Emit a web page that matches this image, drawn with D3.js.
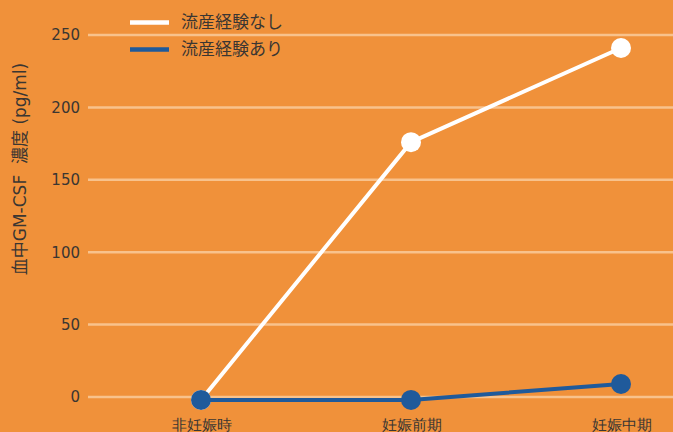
<!DOCTYPE html>
<html>
<head>
<meta charset="utf-8">
<script src="https://cdn.jsdelivr.net/npm/d3@7"></script>
<style>
  html, body { margin: 0; padding: 0; background: #F0913A; }
  svg { display: block; font-family: "Noto Sans CJK JP", "Noto Sans", sans-serif; }
</style>
</head>
<body>
<div id="chart"></div>
<script>
// カテゴリ（時期）
const periods = ['非妊娠時', '妊娠前期', '妊娠中期'];
// 系列の値 (pg/ml)
const noMiscarriage = [-2, 176, 241];
const withMiscarriage = [-2, -2, 9];
const seriesNames = ['流産経験なし', '流産経験あり'];
const seriesColors = ['#FFFFFF', '#1F5A9B'];
// 目盛り
const yTicks = [0, 50, 100, 150, 200, 250];

const width = 673;
const height = 432;
const textColor = '#3A3632';

const svg = d3.select('#chart')
  .append('svg')
  .attr('width', width)
  .attr('height', height);

svg.append('rect')
  .attr('width', width)
  .attr('height', height)
  .attr('fill', '#F0913A');

// スケール
const x = d3.scalePoint().domain(periods).range([201, 621]);
const y = d3.scaleLinear().domain([0, 250]).range([397, 35]);

// グリッド線
svg.append('g')
  .selectAll('line')
  .data(yTicks)
  .enter().append('line')
  .attr('x1', 88)
  .attr('x2', width)
  .attr('y1', d => y(d))
  .attr('y2', d => y(d))
  .attr('stroke', '#F8C28C')
  .attr('stroke-width', 2.5);

// Y軸
const yAxis = svg.append('g')
  .attr('transform', 'translate(80,0)')
  .call(d3.axisLeft(y).tickValues(yTicks).tickSize(0).tickPadding(0));
yAxis.select('.domain').remove();
yAxis.selectAll('text')
  .attr('fill', textColor)
  .attr('font-size', 15)
  .attr('font-family', '"DejaVu Sans", sans-serif');

// X軸
const xAxis = svg.append('g')
  .attr('transform', 'translate(0,416)')
  .call(d3.axisBottom(x).tickSize(0).tickPadding(0));
xAxis.select('.domain').remove();
xAxis.selectAll('text')
  .attr('fill', textColor)
  .attr('font-size', 15)
  .attr('dy', '0.9em');

// Y軸タイトル
svg.append('text')
  .attr('transform', 'translate(26,169) rotate(-90)')
  .attr('text-anchor', 'middle')
  .attr('fill', textColor)
  .attr('font-size', 17)
  .attr('font-family', '"DejaVu Sans", "Noto Sans CJK JP", sans-serif')
  .attr('xml:space', 'preserve')
  .text('血中GM-CSF  濃度 (pg/ml)');

// 折れ線
const line = d3.line()
  .x((d, i) => x(periods[i]))
  .y(d => y(d));

const series = [noMiscarriage, withMiscarriage];
series.forEach((values, s) => {
  svg.append('path')
    .datum(values)
    .attr('d', line)
    .attr('fill', 'none')
    .attr('stroke', seriesColors[s])
    .attr('stroke-width', 4);
  svg.append('g')
    .selectAll('circle')
    .data(values)
    .enter().append('circle')
    .attr('cx', (d, i) => x(periods[i]))
    .attr('cy', d => y(d))
    .attr('r', 10)
    .attr('fill', seriesColors[s]);
});

// 凡例
const legend = svg.append('g')
  .selectAll('g')
  .data(seriesNames)
  .enter().append('g')
  .attr('transform', (d, i) => `translate(130,${22.5 + i * 27})`);
legend.append('line')
  .attr('x1', 0)
  .attr('x2', 39)
  .attr('stroke', (d, i) => seriesColors[i])
  .attr('stroke-width', 4.5);
legend.append('text')
  .attr('x', 51)
  .attr('dy', '0.35em')
  .attr('fill', textColor)
  .attr('font-size', 17)
  .text(d => d);
</script>
</body>
</html>
